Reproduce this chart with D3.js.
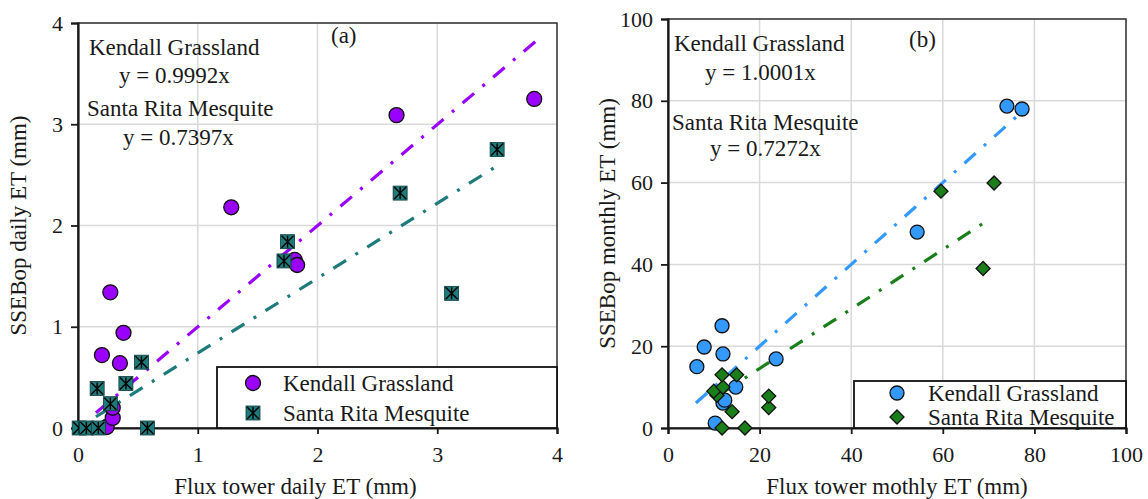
<!DOCTYPE html>
<html>
<head>
<meta charset="utf-8">
<script src="https://cdn.jsdelivr.net/npm/d3@7"></script>
<style>
  body { margin: 0; background: #fff; }
  svg text { font-family: "Liberation Serif", "Times New Roman", serif; fill: #1a1a1a; }
</style>
</head>
<body>
<script>
// panel (a): daily ET, mm
var kendallDailyX = [0.24, 0.29, 0.29, 0.20, 0.35, 0.38, 0.27, 1.28, 1.81, 1.83, 2.66, 3.81];
var kendallDailyY = [0.01, 0.10, 0.20, 0.72, 0.64, 0.94, 1.34, 2.18, 1.66, 1.61, 3.09, 3.25];
var ritaDailyX = [0.01, 0.07, 0.17, 0.58, 0.27, 0.16, 0.40, 0.53, 1.72, 1.75, 2.69, 3.12, 3.50];
var ritaDailyY = [0.00, 0.00, 0.00, 0.00, 0.24, 0.39, 0.44, 0.65, 1.65, 1.84, 2.32, 1.33, 2.75];

// panel (b): monthly ET, mm
var kendallMonthX = [10.3, 12.0, 12.4, 14.8, 6.3, 7.9, 12.0, 11.8, 23.6, 54.4, 74.0, 77.3];
var kendallMonthY = [1.2, 6.1, 6.8, 10.0, 15.0, 19.8, 18.1, 25.0, 16.9, 47.9, 78.7, 78.0];
var ritaMonthX = [11.8, 16.8, 14.0, 10.7, 10.0, 12.0, 11.8, 15.0, 22.0, 22.0, 59.6, 68.8, 71.2];
var ritaMonthY = [0.0, 0.0, 4.0, 8.0, 9.0, 10.0, 13.0, 13.0, 5.0, 7.8, 57.9, 39.0, 59.9];

// zero-intercept fits and the x range each one is drawn over
var slopesDaily = [0.9992, 0.7397];
var fitRangeDaily = [[0.15, 3.82], [0.15, 3.50]];
var slopesMonth = [1.0001, 0.7272];
var fitRangeMonth = [[6.1, 76.0], [12.0, 68.8]];

var siteNames = ["Kendall Grassland", "Santa Rita Mesquite"];
var dailyTicks = [0, 1, 2, 3, 4];
var monthTicks = [0, 20, 40, 60, 80, 100];

var W = 1148, H = 499;
var svg = d3.select("body").append("svg").attr("width", W).attr("height", H);

function zip(xs, ys) { return xs.map(function(v, i) { return [v, ys[i]]; }); }

function drawPanel(o) {
  var x = d3.scaleLinear().domain(o.domain).range([o.left, o.right]);
  var y = d3.scaleLinear().domain(o.domain).range([o.bottom, o.top]);
  var g = svg.append("g");

  // grid
  g.selectAll(".gx").data(o.ticks).enter().append("line")
    .attr("x1", function(d){ return x(d); }).attr("x2", function(d){ return x(d); })
    .attr("y1", o.top).attr("y2", o.bottom)
    .attr("stroke", "#d9d9d9").attr("stroke-width", 1.5);
  g.selectAll(".gy").data(o.ticks).enter().append("line")
    .attr("y1", function(d){ return y(d); }).attr("y2", function(d){ return y(d); })
    .attr("x1", o.left).attr("x2", o.right)
    .attr("stroke", "#d9d9d9").attr("stroke-width", 1.5);

  // frame
  g.append("rect").attr("x", o.left).attr("y", o.top)
    .attr("width", o.right - o.left).attr("height", o.bottom - o.top)
    .attr("fill", "none").attr("stroke", "#333").attr("stroke-width", 1.5);

  // fit lines
  o.slopes.forEach(function(s, i) {
    var r = o.fitRange[i];
    g.append("line")
      .attr("x1", x(r[0])).attr("y1", y(s * r[0]))
      .attr("x2", x(r[1])).attr("y2", y(s * r[1]))
      .attr("stroke", o.colors[i]).attr("stroke-width", 3.2)
      .attr("stroke-dasharray", "15,11,3,11");
  });

  // axes
  var ax = g.append("g").attr("transform", "translate(0," + o.bottom + ")")
    .call(d3.axisBottom(x).tickValues(o.ticks).tickFormat(d3.format("d")).tickSize(6).tickPadding(8));
  var ay = g.append("g").attr("transform", "translate(" + o.left + ",0)")
    .call(d3.axisLeft(y).tickValues(o.ticks).tickFormat(d3.format("d")).tickSize(7).tickPadding(8));
  [ax, ay].forEach(function(a) {
    a.select(".domain").attr("stroke", "#1a1a1a").attr("stroke-width", 2.2);
    a.selectAll(".tick line").attr("stroke", "#1a1a1a").attr("stroke-width", 1.8);
    a.selectAll(".tick text").style("font-family", "Liberation Serif").style("font-size", "22px").attr("fill", "#1a1a1a");
  });
  ax.selectAll(".tick text").attr("dy", "0.9em");

  // points
  var mk = g.append("g");
  mk.selectAll("circle").data(o.series[0]).enter().append("circle")
    .attr("cx", function(d){ return x(d[0]); }).attr("cy", function(d){ return y(d[1]); })
    .attr("r", o.r).attr("fill", o.colors[0]).attr("stroke", "#111").attr("stroke-width", 1.3);
  o.marker2(mk, o.series[1].map(function(d){ return [x(d[0]), y(d[1])]; }), o.colors[1]);

  // annotations
  var ann = g.append("g").style("font-size", "23px");
  o.notes.forEach(function(n) {
    ann.append("text").attr("x", n[0]).attr("y", n[1]).text(n[2]);
  });
  ann.append("text").attr("x", o.tag[0]).attr("y", o.tag[1]).text(o.tag[2]);

  // legend: [box left, box top, marker x, text x, row1 y, row2 y]
  var L = o.legend;
  var lg = g.append("g");
  lg.append("rect").attr("x", L[0]).attr("y", L[1])
    .attr("width", o.right - L[0]).attr("height", o.bottom - L[1])
    .attr("fill", "#fff").attr("stroke", "#111").attr("stroke-width", 1.8);
  lg.append("circle").attr("cx", L[2]).attr("cy", L[4])
    .attr("r", o.r).attr("fill", o.colors[0]).attr("stroke", "#111").attr("stroke-width", 1.3);
  o.marker2(lg, [[L[2], L[5]]], o.colors[1]);
  siteNames.forEach(function(s, i) {
    lg.append("text").attr("x", L[3]).attr("y", i ? L[5] : L[4])
      .attr("dy", "0.35em").style("font-size", "23px").text(s);
  });

  // axis titles
  g.append("text").attr("x", (o.left + o.right) / 2 + o.xtOff).attr("y", 494)
    .attr("text-anchor", "middle").style("font-size", "23px").text(o.xTitle);
  g.append("text").attr("transform", "translate(" + o.ytX + "," + ((o.top + o.bottom) / 2) + ") rotate(-90)")
    .attr("text-anchor", "middle").attr("dy", "0.35em").style("font-size", "23px").text(o.yTitle);
}

function starSquares(sel, pts, col) {
  var h = 7;
  var gg = sel.append("g");
  pts.forEach(function(p) {
    gg.append("rect").attr("x", p[0] - h).attr("y", p[1] - h).attr("width", 2 * h).attr("height", 2 * h)
      .attr("fill", col).attr("stroke", "#0d3b3b").attr("stroke-width", 0.8);
    gg.append("path")
      .attr("d", "M" + (p[0] - h + 1) + "," + (p[1] - h + 1) + "L" + (p[0] + h - 1) + "," + (p[1] + h - 1) +
                 "M" + (p[0] + h - 1) + "," + (p[1] - h + 1) + "L" + (p[0] - h + 1) + "," + (p[1] + h - 1) +
                 "M" + p[0] + "," + (p[1] - h + 1) + "L" + p[0] + "," + (p[1] + h - 1))
      .attr("stroke", "#000").attr("stroke-width", 1.4);
  });
}

function diamonds(sel, pts, col) {
  sel.append("g").selectAll("path").data(pts).enter().append("path")
    .attr("transform", function(p){ return "translate(" + p[0] + "," + p[1] + ") rotate(45)"; })
    .attr("d", d3.symbol().type(d3.symbolSquare).size(98))
    .attr("fill", col).attr("stroke", "#111").attr("stroke-width", 1.3);
}

drawPanel({
  left: 78, right: 557, top: 23, bottom: 428,
  domain: [0, 4], ticks: dailyTicks, r: 7.5,
  series: [zip(kendallDailyX, kendallDailyY), zip(ritaDailyX, ritaDailyY)],
  colors: ["#9900ff", "#1d7b7b"],
  slopes: slopesDaily, fitRange: fitRangeDaily,
  marker2: starSquares,
  notes: [[89, 55, siteNames[0]], [119, 83, "y = 0.9992x"], [87, 116, siteNames[1]], [123, 145, "y = 0.7397x"]],
  tag: [331, 43, "(a)"],
  legend: [217, 367, 253, 283, 383, 413],
  xTitle: "Flux tower daily ET (mm)", xtOff: -22,
  yTitle: "SSEBop daily ET (mm)", ytX: 18
});

drawPanel({
  left: 668, right: 1126, top: 19, bottom: 428,
  domain: [0, 100], ticks: monthTicks, r: 7,
  series: [zip(kendallMonthX, kendallMonthY), zip(ritaMonthX, ritaMonthY)],
  colors: ["#3399ff", "#1a7f1a"],
  slopes: slopesMonth, fitRange: fitRangeMonth,
  marker2: diamonds,
  notes: [[674, 51, siteNames[0]], [705, 80, "y = 1.0001x"], [672, 130, siteNames[1]], [710, 156, "y = 0.7272x"]],
  tag: [909, 47, "(b)"],
  legend: [854, 381, 897, 928, 393, 417],
  xTitle: "Flux tower mothly ET (mm)", xtOff: 0,
  yTitle: "SSEBop monthly ET (mm)", ytX: 607
});
</script>
</body>
</html>
